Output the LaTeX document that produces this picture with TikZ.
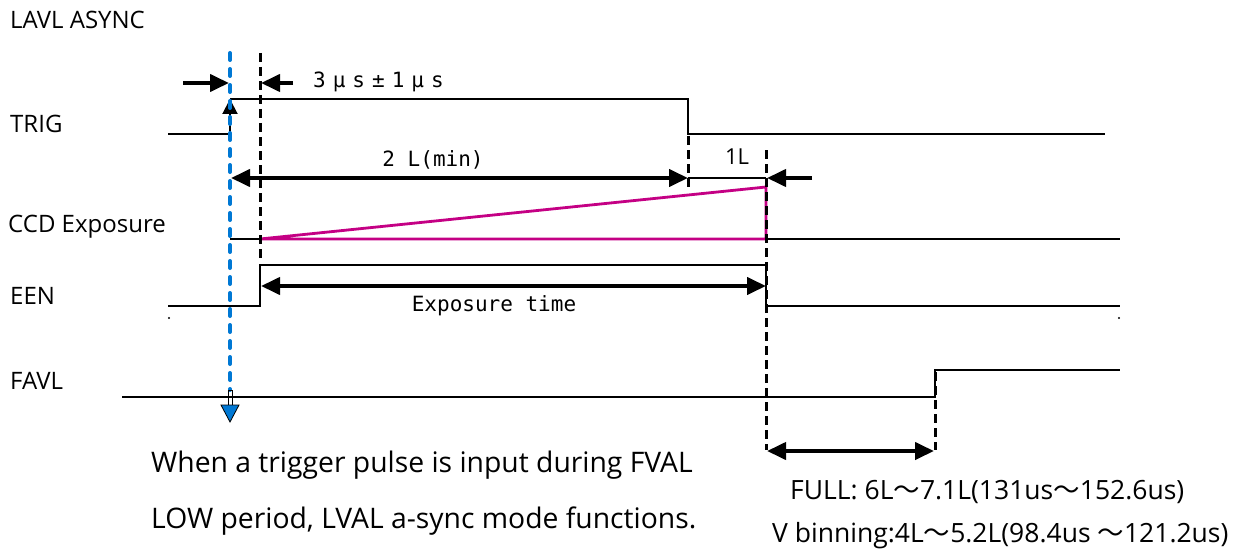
\documentclass[tikz,border=0pt]{standalone}
\usepackage{fontspec}
\setmainfont{Open Sans}
\newfontfamily\gothic{DejaVu Sans Mono}
\newfontfamily\cjk{Noto Sans CJK JP}
\usetikzlibrary{arrows.meta,positioning,calc}
\definecolor{trigBlue}{RGB}{0,120,212}
\definecolor{expMagenta}{RGB}{196,0,132}

\tikzset{
  sig/.style={line width=2pt},
  guide/.style={line width=3pt, dash pattern=on 9pt off 5pt},
  dimArrow/.style={line width=4pt, -{Triangle[length=19pt,width=17pt]}},
  dimBoth/.style={line width=4pt, {Triangle[length=19pt,width=17pt]}-{Triangle[length=19pt,width=17pt]}},
  lbl/.style={anchor=west, inner sep=0pt, font=\fontsize{24}{28}\selectfont},
  note/.style={anchor=west, inner sep=0pt, font=\fontsize{28.3}{32}\selectfont},
  rangetext/.style={anchor=west, inner sep=0pt, font=\fontsize{26.5}{30}\selectfont},
  mono/.style={inner sep=0pt, font=\gothic\fontsize{21}{24}\selectfont}
}

\begin{document}
\begin{tikzpicture}[x=1pt, y=-1pt]
				\useasboundingbox (0,0) rectangle (1233,559);
				% signal names
				\node[lbl] (title) at (10,20) {LAVL ASYNC};
				\node[lbl] (trig) at (10,124) {TRIG};
				\node[lbl] (ccd) at (8,227) {CCD Exposure};
				\node[lbl] (een) at (10,296) {EEN};
				\node[lbl] (favl) at (10,381) {FAVL};
				% waveforms
				\draw[sig, -{Triangle[length=15pt,width=15pt]}] (168,134) -- (230,134) -- (230,99);
				\draw[sig] (230,99) -- (688,99) -- (688,134) -- (1105,134);
				\draw[sig] (230,239) -- (260,239);
				\draw[sig] (766,239) -- (1120,239);
				\draw[line width=2.8pt, expMagenta, line join=miter] (260,239) -- (766,187) -- (766,239) -- cycle;
				\draw[sig] (168,306) -- (260,306) -- (260,265) -- (766,265) -- (766,306) -- (1120,306);
				\fill (169,318) circle (1.2) (1119,318) circle (1.2);
				\draw[sig] (122,397) -- (935,397) -- (935,370) -- (1120,370);
				% guide lines
				\draw[guide] (260,53) -- (260,262);
				\draw[guide] (688,136) -- (688,190);
				\draw[guide] (766,150) -- (766,450);
				\draw[guide] (935,372) -- (935,450);
				\draw[trigBlue, line width=4pt, line cap=round, dash pattern=on 7pt off 9pt] (230,53) -- (230,390);
				\draw[line width=0.8pt] (228,390) rectangle (232,405);
				\draw[line width=0.8pt, fill=trigBlue] (221,405) -- (239,405) -- (230,422) -- cycle;
				% dimensions
				\draw[dimArrow] (183,83) -- (229,83);
				\draw[dimArrow] (293,83) -- (261,83);
				\node[mono, anchor=west] (jitter) at (313,82) {3\kern7pt μ\kern7pt s\kern7pt ±\kern7pt 1\kern7pt μ\kern7pt s};
				\draw[dimBoth] (231,178) -- (688,178);
				\draw[sig] (688,178) -- (766,178);
				\draw[dimArrow] (812,178) -- (767,178);
				\node[mono] (min) at (433,160) {2 L(min)};
				\node[inner sep=0pt, font=\fontsize{22}{24}\selectfont] (oneL) at (737,157) {1L};
				\draw[dimBoth] (261,286) -- (766,286);
				\node[mono] (exptime) at (494,306) {Exposure time};
				\draw[dimBoth] (767,451) -- (934,451);
				% notes
				\node[note] (note1) at (151,465) {When a trigger pulse is input during FVAL};
				\node[note] (note2) at (151,521) {LOW period, LVAL a-sync mode functions.};
				\node[rangetext] (full) at (790,492) {FULL: 6L{\cjk ～}7.1L(131us{\cjk ～}152.6us)};
				\node[rangetext] (vbin) at (772,536) {V binning:4L{\cjk ～}5.2L(98.4us {\cjk ～}121.2us)};
			\end{tikzpicture}
\end{document}
